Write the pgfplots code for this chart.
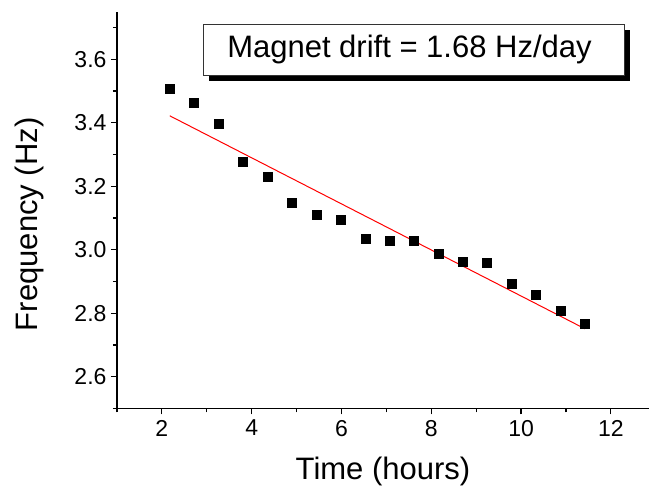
\documentclass[border=0pt]{standalone}
\usepackage{pgfplots}
\pgfplotsset{compat=1.18}
\usepackage{fontspec}
\setmainfont{Liberation Sans}

% drift measurement: frequency vs. elapsed time
\pgfplotstableread{
t      f
2.176  3.506
2.717  3.464
3.267  3.398
3.808  3.276
4.352  3.231
4.900  3.149
5.443  3.112
5.984  3.094
6.535  3.036
7.076  3.029
7.617  3.029
8.167  2.987
8.708  2.964
9.243  2.958
9.793  2.893
10.334 2.858
10.877 2.809
11.425 2.766
}\drift

\begin{document}
\begin{tikzpicture}
\useasboundingbox (0,0) rectangle (649pt,490pt);
\begin{axis}[
  at={(117pt,81.5pt)}, anchor=south west,
  scale only axis, width=532pt, height=396.8pt,
  xmin=1, xmax=12.85, ymin=2.5, ymax=3.75,
  axis x line=bottom, axis y line=left,
  axis line style={-, line width=1.2pt, black},
  xtick={2,4,6,8,10,12},
  minor xtick={1,3,5,7,9,11,13},
  ytick={2.6,2.8,3.0,3.2,3.4,3.6},
  minor ytick={2.5,2.7,2.9,3.1,3.3,3.5,3.7},
  tick align=outside,
  major tick length=6pt, minor tick length=4pt,
  every tick/.style={line width=1.2pt, black},
  /pgf/number format/assume math mode=true,
  tick label style={font=\fontsize{23}{27}\selectfont},
  xticklabel style={yshift=-2pt},
  yticklabel style={xshift=-1pt, /pgf/number format/.cd, fixed, fixed zerofill, precision=1},
  xlabel={Time (hours)},
  ylabel={Frequency (Hz)},
  label style={font=\fontsize{31}{37}\selectfont},
  xlabel style={at={(axis description cs:0.5,-0.1777)}, anchor=base},
  ylabel style={at={(axis description cs:-0.1485,0.464)}, anchor=base},
  clip=false,
]
\addplot[only marks, mark=square*, mark size=4.5pt, black] table[x=t, y=f] {\drift};
\addplot[red, line width=1pt] coordinates {(2.176,3.422) (11.425,2.751)};

\node[fill=black, minimum width=421pt, minimum height=51pt, inner sep=0pt,
      xshift=6pt, yshift=-6pt] at (axis description cs:0.5573,0.9047) {};
\node[fill=white, draw=black!80, line width=0.8pt, minimum width=421pt,
      minimum height=51pt, inner sep=0pt] at (axis description cs:0.5573,0.9047) {};
\node[inner sep=0pt, xshift=-4pt, font=\fontsize{31}{37}\selectfont]
      at (axis description cs:0.5573,0.9047) {Magnet drift = 1.68 Hz/day};
\end{axis}
\end{tikzpicture}
\end{document}
